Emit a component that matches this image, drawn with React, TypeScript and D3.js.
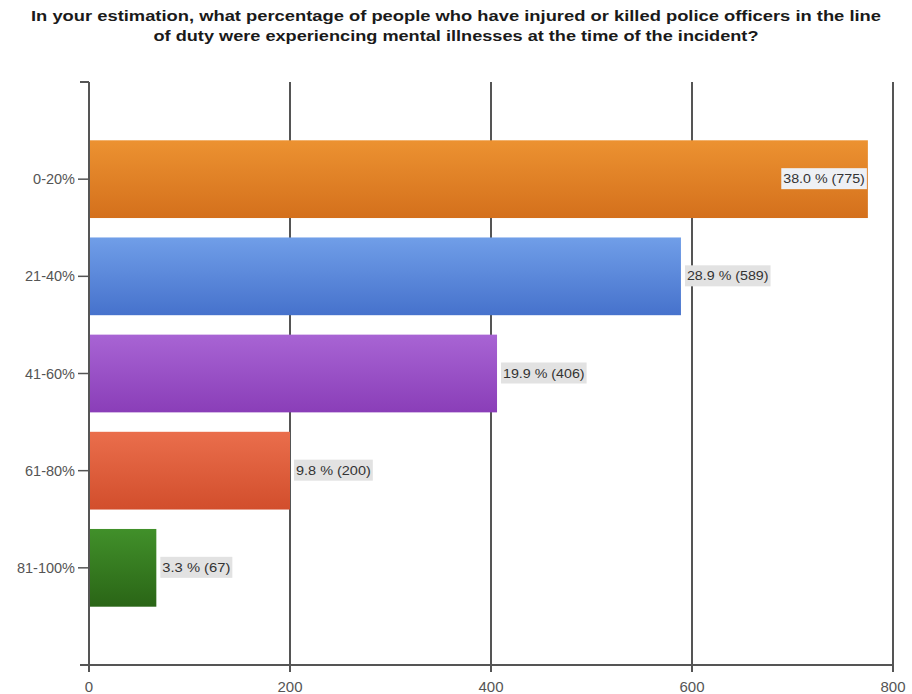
import React from "react";
import * as d3 from "d3";

const categories = ["0-20%", "21-40%", "41-60%", "61-80%", "81-100%"];
const counts = [775, 589, 406, 200, 67];
const percents = ["38.0", "28.9", "19.9", "9.8", "3.3"];
const xTicks = [0, 200, 400, 600, 800];
const colorsTop = ["#ec9231", "#709ee8", "#a864d4", "#ea6e4c", "#41902a"];
const colorsBottom = ["#d4701c", "#4672cc", "#8a3eb8", "#d24e2c", "#2a6516"];
const titleLines = [
  "In your estimation, what percentage of people who have injured or killed police officers in the line",
  "of duty were experiencing mental illnesses at the time of the incident?",
];

export default function App() {
  const W = 912, H = 694;
  const x = d3.scaleLinear().domain([0, 800]).range([89, 893]);
  const y = d3.scaleLinear().domain([0, 6]).range([82, 665]);
  const bandH = (y(1) - y(0)) * 0.8;
  const axisColor = "#555";
  const labelFont = "'Liberation Sans Narrow', 'Arial Narrow', 'Liberation Sans', sans-serif";
  return (
    <svg width={W} height={H} style={{ position: "absolute", left: 0, top: 0, background: "#fff" }}>
      <defs>
        {categories.map((c, i) => (
          <linearGradient key={c} id={`g${i}`} x1="0" y1="0" x2="0" y2="1">
            <stop offset="0%" stopColor={colorsTop[i]} />
            <stop offset="100%" stopColor={colorsBottom[i]} />
          </linearGradient>
        ))}
      </defs>
      {titleLines.map((t, i) => (
        <text
          key={i}
          x={W / 2}
          y={21 + i * 20}
          textAnchor="middle"
          fontFamily={labelFont}
          fontWeight="bold"
          fontSize={15}
          fill="#1a1a1a"
          textLength={i === 0 ? 850 : 605}
          lengthAdjust="spacingAndGlyphs"
        >
          {t}
        </text>
      ))}
      {/* grid lines */}
      {xTicks.slice(1).map((t) => (
        <line key={t} x1={x(t)} x2={x(t)} y1={y(0)} y2={y(6) + 7} stroke={axisColor} strokeWidth={2} />
      ))}
      {/* bars */}
      {categories.map((c, i) => {
        const cy = y(i + 1);
        return (
          <rect key={c} x={x(0)} y={cy - bandH / 2} width={x(counts[i]) - x(0)} height={bandH} fill={`url(#g${i})`} />
        );
      })}
      {/* axes */}
      <line x1={x(0)} x2={x(0)} y1={y(0)} y2={y(6) + 7} stroke={axisColor} strokeWidth={2} />
      <line x1={80} x2={x(0)} y1={y(0)} y2={y(0)} stroke={axisColor} strokeWidth={2} />
      <line x1={80} x2={x(800)} y1={y(6)} y2={y(6)} stroke={axisColor} strokeWidth={2} />
      {categories.map((c, i) => {
        const cy = y(i + 1);
        return (
          <g key={c}>
            <line x1={78} x2={x(0)} y1={cy} y2={cy} stroke={axisColor} strokeWidth={1.5} />
            <text x={75} y={cy + 5} textAnchor="end" fontFamily="'Liberation Sans', Arial, sans-serif" fontSize={14.5} fill="#555">
              {c}
            </text>
          </g>
        );
      })}
      {xTicks.map((t) => (
        <text key={t} x={x(t)} y={692} textAnchor="middle" fontFamily="'Liberation Sans', Arial, sans-serif" fontSize={15} fill="#555">
          {t}
        </text>
      ))}
      {/* value labels */}
      {categories.map((c, i) => {
        const cy = y(i + 1);
        const label = `${percents[i]} % (${counts[i]})`;
        const boxW = label.length * 6.8 + 4;
        const inside = x(counts[i]) + boxW + 4 > x(800) - 10;
        const bx = inside ? x(counts[i]) - boxW - 1 : x(counts[i]) + 4;
        return (
          <g key={c}>
            <rect x={bx} y={cy - 11} width={boxW} height={21} fill={inside ? "#eef0f4" : "#e2e2e2"} />
            <text x={bx + 2} y={cy + 4} fontFamily={labelFont} fontSize={12} fill="#333" textLength={boxW - 4} lengthAdjust="spacingAndGlyphs">
              {label}
            </text>
          </g>
        );
      })}
    </svg>
  );
}
